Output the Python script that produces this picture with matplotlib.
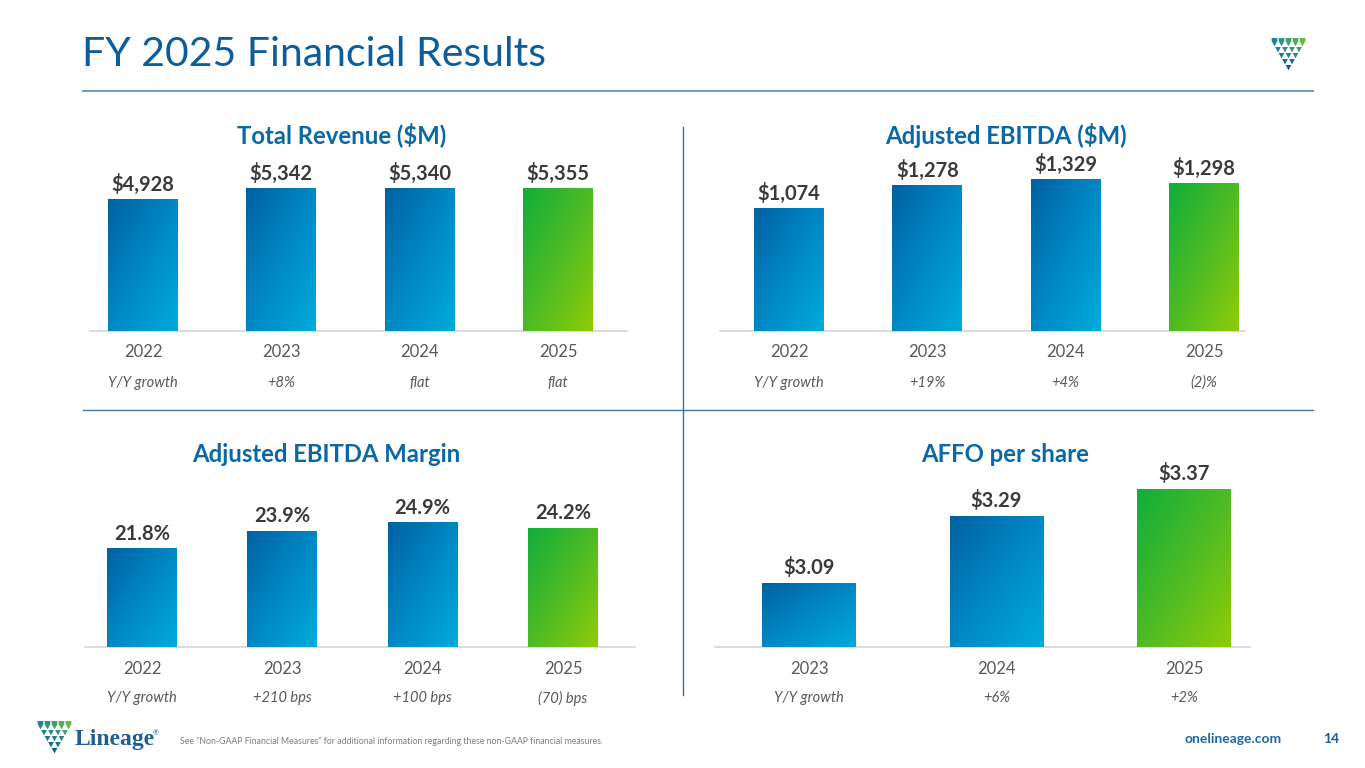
import numpy as np
import matplotlib
matplotlib.use("Agg")
import matplotlib.pyplot as plt
from matplotlib.colors import LinearSegmentedColormap
from matplotlib.patches import Polygon
from matplotlib.lines import Line2D
from matplotlib.transforms import blended_transform_factory

plt.rcParams['font.family'] = ['Lato', 'DejaVu Sans']

# ---------------- data ----------------
rev_years = ["2022", "2023", "2024", "2025"]
rev_values = [4928, 5342, 5340, 5355]
rev_labels = ["$4,928", "$5,342", "$5,340", "$5,355"]
rev_growth = ["Y/Y growth", "+8%", "flat", "flat"]

ebitda_years = ["2022", "2023", "2024", "2025"]
ebitda_values = [1074, 1278, 1329, 1298]
ebitda_labels = ["$1,074", "$1,278", "$1,329", "$1,298"]
ebitda_growth = ["Y/Y growth", "+19%", "+4%", "(2)%"]

margin_years = ["2022", "2023", "2024", "2025"]
margin_values = [21.8, 23.9, 24.9, 24.2]
margin_labels = ["21.8%", "23.9%", "24.9%", "24.2%"]
margin_growth = ["Y/Y growth", "+210 bps", "+100 bps", "(70) bps"]

affo_years = ["2023", "2024", "2025"]
affo_values = [3.09, 3.29, 3.37]
affo_labels = ["$3.09", "$3.29", "$3.37"]
affo_growth = ["Y/Y growth", "+6%", "+2%"]

# ---------------- styling ----------------
W, H = 1365, 768
fig = plt.figure(figsize=(W / 100, H / 100), dpi=100)
fig.patch.set_facecolor("white")

BLUE = LinearSegmentedColormap.from_list("b", ["#0061a2", "#0088c4", "#00abda"])
GREEN = LinearSegmentedColormap.from_list("g", ["#10ae3a", "#4dbb25", "#90cc08"])
TITLE_C = "#0b5e9b"
PTITLE_C = "#0a68a6"
VAL_C = "#3a3a3a"
YEAR_C = "#595959"
GROW_C = "#595959"


def fx(x):
    return x / W


def fy(y):
    return 1 - y / H


def panel(title, title_xy, years, values, labels, growth, centers, bar_px,
          base_y, ylim, baseline_x, year_y, growth_y):
    n = len(values)
    sp = (centers[-1] - centers[0]) / (n - 1)
    left = centers[0] - sp / 2
    right = centers[-1] + sp / 2
    ax = fig.add_axes([fx(left), fy(base_y), (right - left) / W, 200 / H])
    ax.set_axis_off()
    x = np.arange(n)
    bw = bar_px / sp
    ymin = ylim[0]
    vals = np.array(values, dtype=float)
    bars = ax.bar(x, vals - ymin, bottom=ymin, width=bw, color="none",
                  edgecolor="none", zorder=1)
    U, V = np.meshgrid(np.linspace(0, 1, 64), np.linspace(0, 1, 128))
    T = 0.5 * (U + V)
    for i, b in enumerate(bars):
        cmap = GREEN if i == n - 1 else BLUE
        x0 = b.get_x()
        x1 = x0 + b.get_width()
        ax.imshow(T, cmap=cmap, vmin=0, vmax=1, origin="upper",
                  extent=(x0, x1, ymin, vals[i]), aspect="auto",
                  interpolation="bilinear", zorder=2)
        ax.annotate(labels[i], (x[i], vals[i]), xytext=(0, 6.5),
                    textcoords="offset points", ha="center", va="baseline",
                    fontsize=14.5, fontweight="bold", color=VAL_C)
    ax.set_xlim(-0.5, n - 0.5)
    ax.set_ylim(*ylim)
    tr = blended_transform_factory(ax.transData, fig.transFigure)
    for i in range(n):
        ax.text(x[i], fy(year_y), years[i], transform=tr, ha="center",
                va="center", fontsize=12, color=YEAR_C)
        ax.text(x[i], fy(growth_y), growth[i], transform=tr, ha="center",
                va="center", fontsize=10.5, color=GROW_C, style="italic")
    fig.add_artist(Line2D([fx(baseline_x[0]), fx(baseline_x[1])],
                          [fy(base_y), fy(base_y)], color="#d9d9d9", lw=1.3,
                          zorder=0))
    fig.text(fx(title_xy[0]), fy(title_xy[1]), title, ha="center", va="center",
             fontsize=17.2, fontweight="bold", color=PTITLE_C)
    return ax


panel("Total Revenue ($M)", (342, 135), rev_years, rev_values, rev_labels,
      rev_growth, [143, 281, 420, 558], 70, 331, (0, 7520), (90, 627), 352, 383)
panel("Adjusted EBITDA ($M)", (1006, 135), ebitda_years, ebitda_values,
      ebitda_labels, ebitda_growth, [789, 927, 1066, 1204], 70, 331, (0, 1760),
      (720, 1245), 352, 383)
panel("Adjusted EBITDA Margin", (326, 454), margin_years, margin_values,
      margin_labels, margin_growth, [142, 282, 421, 563], 70, 647,
      (10.1, 33.9), (85, 635), 669, 698)
panel("AFFO per share", (1005, 454), affo_years, affo_values, affo_labels,
      affo_growth, [809, 997, 1184], 94, 647, (2.90, 3.496), (715, 1250), 669,
      698)

# ---------------- page furniture ----------------
fig.text(fx(82), fy(55), "FY 2025 Financial Results", ha="left", va="center",
         fontsize=29.5, color=TITLE_C)
fig.add_artist(Line2D([fx(83), fx(1313)], [fy(91), fy(91)], color="#6c9cb2",
                      lw=1.4))
fig.add_artist(Line2D([fx(83), fx(1313)], [fy(410), fy(410)], color="#3f78a6",
                      lw=1.0))
fig.add_artist(Line2D([fx(683), fx(683)], [fy(127), fy(695)], color="#3f6f9f",
                      lw=1.0))

fig.text(fx(180), fy(741), 'See "Non-GAAP Financial Measures" for additional '
         'information regarding these non-GAAP financial measures.',
         ha="left", va="center", fontsize=6.3, color="#7f7f7f")
fig.text(fx(1233), fy(739), "onelineage.com", ha="center", va="center",
         fontsize=10, fontweight="bold", color="#1a6aa8")
fig.text(fx(1331), fy(739), "14", ha="center", va="center", fontsize=10,
         fontweight="bold", color="#1a5f99")


def shield(x0, y0, w, h):
    """Lineage shield mark made of triangles; x0,y0 = top-left px."""
    rows = 5
    tw = w / rows
    th = h / rows
    gap = 0.09
    c_top_l = np.array([0.08, 0.50, 0.62])
    c_top_r = np.array([0.42, 0.76, 0.22])
    c_bot = np.array([0.04, 0.36, 0.64])
    for r in range(rows):
        for j in range(rows - r):
            lx = x0 + r * tw / 2 + j * tw
            ty = y0 + r * th
            g = gap * tw
            pts = [(lx + g, ty), (lx + tw - g, ty), (lx + tw / 2, ty + th - g)]
            if r == 0:
                pts = [(lx + g, ty - th * 0.5), (lx + tw - g, ty - th * 0.5),
                       (lx + tw - g, ty), (lx + tw / 2, ty + th - g),
                       (lx + g, ty)]
            u = (lx + tw / 2 - x0) / w
            v = r / (rows - 1)
            c = (1 - v) * ((1 - u) * c_top_l + u * c_top_r) + v * c_bot
            fig.add_artist(Polygon([(fx(px), fy(py)) for px, py in pts],
                                   closed=True, facecolor=np.clip(c, 0, 1),
                                   edgecolor="none",
                                   transform=fig.transFigure))


shield(1271, 41, 35, 30)
shield(37, 724, 35, 30)
fig.text(fx(75), fy(739), "Lineage", ha="left", va="center", fontsize=17,
         fontweight="bold", color="#1f5d99", family="Liberation Serif")
fig.text(fx(153), fy(733), "®", ha="left", va="center", fontsize=5,
         color="#1f5d99")

fig.savefig("out.png", dpi=100, facecolor="white")
